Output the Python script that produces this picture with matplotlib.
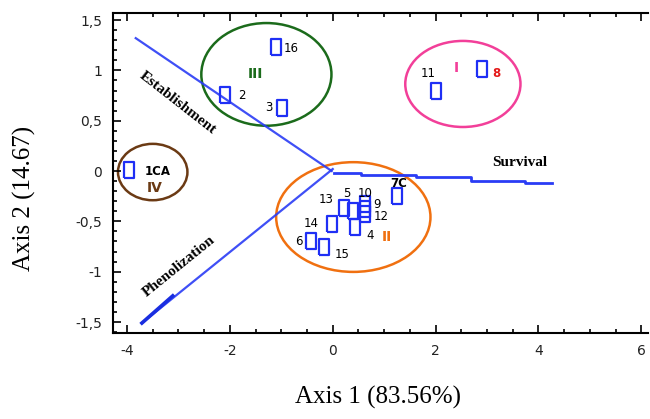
import matplotlib
matplotlib.use("Agg")
import matplotlib.pyplot as plt
from matplotlib.patches import Ellipse
from matplotlib.ticker import MultipleLocator, FuncFormatter

# sample scores on the two axes
names = ["1CA", "2", "3", "16", "11", "8", "7C", "13", "5", "10", "9", "12", "4", "14", "6", "15"]
xs = [-3.97, -2.09, -0.99, -1.10, 2.01, 2.90, 1.24, 0.21, 0.40, 0.63, 0.62, 0.62, 0.44, -0.02, -0.43, -0.17]
ys = [0.01, 0.76, 0.63, 1.23, 0.80, 1.01, -0.25, -0.37, -0.40, -0.33, -0.38, -0.43, -0.56, -0.53, -0.70, -0.75]

# label positions for the sample names
lab_x = [-3.40, -1.76, -1.24, -0.80, 1.86, 3.18, 1.28, -0.12, 0.27, 0.63, 0.86, 0.95, 0.73, -0.42, -0.66, 0.18]
lab_y = [0.00, 0.75, 0.63, 1.22, 0.97, 0.97, -0.12, -0.28, -0.22, -0.22, -0.33, -0.45, -0.64, -0.52, -0.70, -0.83]

# variable vectors
estab_x = [-3.83, -0.02]
estab_y = [1.32, 0.0]
pheno_x = [-3.71, 0.0]
pheno_y = [-1.51, 0.02]
pheno_thick_x = [-3.71, -3.11]
pheno_thick_y = [-1.51, -1.24]
surv_x = [0.02, 0.54, 1.61, 2.69, 3.73, 4.27]
surv_y = [-0.017, -0.04, -0.063, -0.097, -0.117, -0.117]

# groups: name, center x, center y, width, height, colour, label x, label y
groups = [
    ("I", 2.53, 0.865, 2.24, 0.855, "#f23f99", 2.40, 1.02),
    ("II", 0.40, -0.457, 3.0, 1.09, "#f07010", 1.06, -0.66),
    ("III", -1.29, 0.96, 2.53, 1.02, "#1b6b1b", -1.51, 0.96),
    ("IV", -3.50, -0.01, 1.35, 0.56, "#6b3a14", -3.46, -0.17),
]

blue = "#2a3cf5"

fig = plt.figure(figsize=(6.5, 4.19), dpi=100)
ax = fig.add_axes([0.174, 0.205, 0.823, 0.764])

ax.plot(estab_x, estab_y, color=blue, lw=1.6, alpha=0.9)
ax.plot(pheno_x, pheno_y, color=blue, lw=1.6, alpha=0.9)
ax.plot(pheno_thick_x, pheno_thick_y, color="#1a2ee0", lw=2.6)
ax.plot(surv_x, surv_y, color=blue, lw=2.0, drawstyle="steps-post")

rect = [(-0.3, -0.5), (0.3, -0.5), (0.3, 0.5), (-0.3, 0.5), (-0.3, -0.5)]
ax.plot(xs, ys, linestyle="none", marker=rect, markersize=12,
        markerfacecolor="none", markeredgecolor="#1f2ff5", markeredgewidth=1.6)

for i, name in enumerate(names):
    bold = name in ("1CA", "7C")
    color = "black"
    if name == "8":
        color = "#e41a1a"
        bold = True
    ax.text(lab_x[i], lab_y[i], name, fontsize=8.5, color=color,
            fontweight="bold" if bold else "normal", ha="center", va="center",
            family="DejaVu Sans")

for g, cx, cy, w, h, col, lx, ly in groups:
    ax.add_patch(Ellipse((cx, cy), w, h, fill=False, edgecolor=col, lw=1.8))
    ax.text(lx, ly, g, fontsize=10, color=col, fontweight="bold",
            ha="center", va="center", family="DejaVu Sans")

ax.text(-3.02, 0.68, "Establishment", rotation=-38, fontsize=11, fontweight="bold",
        family="Liberation Serif", ha="center", va="center")
ax.text(-2.98, -0.95, "Phenolization", rotation=39, fontsize=11, fontweight="bold",
        family="Liberation Serif", ha="center", va="center")
ax.text(3.64, 0.08, "Survival", fontsize=11, fontweight="bold",
        family="Liberation Serif", ha="center", va="center")

ax.set_xlim(-4.27, 6.13)
ax.set_ylim(-1.61, 1.57)
ax.xaxis.set_major_locator(MultipleLocator(2))
ax.xaxis.set_minor_locator(MultipleLocator(0.5))
ax.yaxis.set_major_locator(MultipleLocator(0.5))
ax.yaxis.set_minor_locator(MultipleLocator(0.1))
ax.yaxis.set_major_formatter(FuncFormatter(lambda v, p: f"{v:g}".replace(".", ",")))
ax.xaxis.set_major_formatter(FuncFormatter(lambda v, p: f"{v:g}"))

ax.spines["right"].set_visible(False)
for s in ("left", "bottom", "top"):
    ax.spines[s].set_linewidth(1.5)
ax.tick_params(which="both", direction="in", top=True, right=False, width=1.2,
               labelsize=10, labelcolor="#222222", pad=8)
ax.tick_params(which="major", length=6)
ax.tick_params(which="minor", length=3)

ax.set_xlabel("Axis 1 (83.56%)", fontsize=18, family="Liberation Serif")
ax.set_ylabel("Axis 2 (14.67)", fontsize=18, family="Liberation Serif")
ax.xaxis.set_label_coords(0.495, -0.165)
ax.yaxis.set_label_coords(-0.145, 0.42)

fig.savefig("out.png", dpi=100)
